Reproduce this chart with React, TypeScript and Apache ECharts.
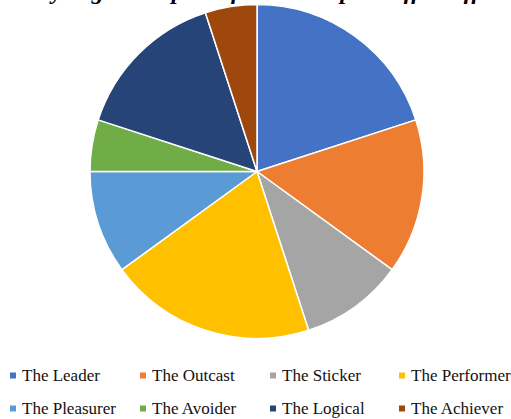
import React, { useEffect, useRef } from "react";
import * as echarts from "echarts";

const categories = [
  "The Leader",
  "The Outcast",
  "The Sticker",
  "The Performer",
  "The Pleasurer",
  "The Avoider",
  "The Logical",
  "The Achiever",
];
const values = [20, 15, 10, 20, 10, 5, 15, 5];
const colors = ["#4472C4", "#ED7D31", "#A5A5A5", "#FFC000", "#5B9BD5", "#70AD47", "#264478", "#9E480E"];
const titleText = "Analysing the impact of the workspace office effect";

const legendCols = [8, 138, 268, 397];
const legendRows = [367, 400];

export default function App() {
  const ref = useRef<HTMLDivElement>(null);
  useEffect(() => {
    if (!ref.current) return;
    const chart = echarts.init(ref.current, null, { renderer: "svg" });
    const legends = categories.map((name, i) => ({
      data: [name],
      left: legendCols[i % 4],
      top: legendRows[Math.floor(i / 4)],
      orient: "horizontal",
      padding: 0,
      icon: "rect",
      itemWidth: 8,
      itemHeight: 8,
      selectedMode: false,
      textStyle: {
        fontFamily: "Liberation Serif, Times New Roman, serif",
        fontSize: 17,
        lineHeight: 17,
        color: "#111",
      },
    }));
    chart.setOption({
      animation: false,
      color: colors,
      graphic: [
        {
          type: "text",
          x: 255.5,
          y: 3,
          z: 100,
          style: {
            text: titleText,
            align: "center",
            verticalAlign: "bottom",
            lineHeight: 24,
            fontFamily: "Liberation Serif, Times New Roman, serif",
            fontSize: 24,
            fontWeight: "bold",
            fontStyle: "italic",
            fill: "#000",
          },
        },
      ],
      legend: legends,
      series: [
        {
          type: "pie",
          center: [257, 171.5],
          radius: 167,
          startAngle: 90,
          clockwise: true,
          label: { show: false },
          labelLine: { show: false },
          emphasis: { disabled: true },
          itemStyle: { borderColor: "#fff", borderWidth: 1.5 },
          data: categories.map((name, i) => ({ name, value: values[i] })),
        },
      ],
    });
    return () => chart.dispose();
  }, []);
  return (
    <div
      ref={ref}
      style={{ position: "absolute", left: 0, top: 0, width: 511, height: 419, background: "#fff" }}
    />
  );
}
